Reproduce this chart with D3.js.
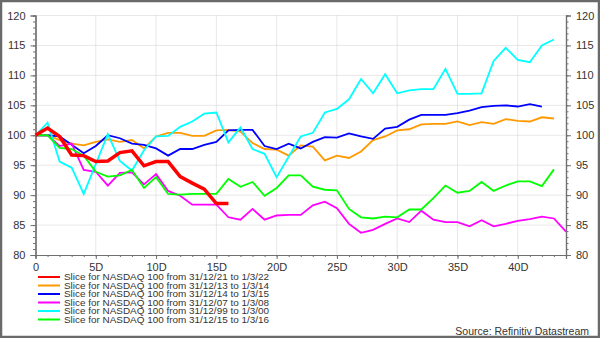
<!DOCTYPE html>
<html><head><meta charset="utf-8">
<script src="https://cdn.jsdelivr.net/npm/d3@7"></script>
<style>
html,body{margin:0;padding:0;background:#fff;}
svg{display:block;font-family:"Liberation Sans",Arial,sans-serif;}
</style></head>
<body><svg id="c" width="600" height="338"></svg>
<script>
const seriesNames = [
  "Slice for NASDAQ 100 from 31/12/21 to 1/3/22",
  "Slice for NASDAQ 100 from 31/12/13 to 1/3/14",
  "Slice for NASDAQ 100 from 31/12/14 to 1/3/15",
  "Slice for NASDAQ 100 from 31/12/07 to 1/3/08",
  "Slice for NASDAQ 100 from 31/12/99 to 1/3/00",
  "Slice for NASDAQ 100 from 31/12/15 to 1/3/16"
];
const seriesColors = ["#ff0000","#ff9900","#0000ff","#ff00ff","#00ffff","#00ff00"];
const red = [100,101.2,99.8,96.7,96.6,95.6,95.7,97.1,97.4,94.9,95.6,95.6,93.1,92.0,91.0,88.6,88.6];
const orange = [100,100,99.2,98.6,98.3,98.9,99.3,98.9,99.2,97.8,99.8,100.4,100.4,99.9,99.9,100.8,100.9,100.6,98.7,97.7,97.6,96.6,98.3,98.1,95.8,96.6,96.2,97.3,99.2,99.8,100.8,101.0,101.8,101.9,101.9,102.3,101.7,102.2,101.9,102.7,102.4,102.3,103.0,102.8];
const blue = [100,100,99.8,98.4,97.0,98.2,100,99.5,98.6,98.4,97.8,96.6,97.7,97.7,98.4,98.9,100.8,100.9,100.9,98.2,97.7,98.6,97.8,98.9,99.7,99.6,100.3,99.8,99.4,101.1,101.4,102.6,103.4,103.4,103.4,103.7,104.1,104.7,104.9,105.0,104.8,105.2,104.8];
const magenta = [100,100,98.2,98.6,94.2,93.9,91.6,93.7,93.8,91.8,93.5,90.7,89.9,88.4,88.4,88.4,86.3,85.9,87.7,85.9,86.6,86.7,86.7,88.3,88.9,87.8,85.2,83.7,84.2,85.2,86.1,85.5,87.4,85.9,85.5,85.5,84.8,85.8,84.8,85.2,85.7,86.0,86.4,86.1,83.9];
const cyan = [100,102.1,95.6,94.6,90.2,95.2,100.2,95.7,94.1,97.5,99.8,99.9,101.4,102.3,103.6,103.8,98.8,101.3,97.7,96.9,93.0,96.4,99.8,100.4,103.8,104.4,106.0,109.4,107.0,110.2,107.0,107.5,107.7,107.7,111.1,106.9,106.9,107.0,112.4,114.6,112.6,112.2,115.0,116.0];
const green = [100,100,97.9,97.7,96.6,93.9,93.1,93.3,94.2,91.2,93.0,90.2,90.1,90.2,90.2,90.2,92.7,91.4,92.2,89.9,91.2,93.3,93.3,91.4,90.9,90.8,87.7,86.3,86.1,86.4,86.3,87.6,87.6,89.5,91.6,90.4,90.7,92.2,90.7,91.6,92.3,92.3,91.5,94.3];
const xTicks = [0,5,10,15,20,25,30,35,40];
const xTickLabels = ["0","5D","10D","15D","20D","25D","30D","35D","40D"];
const yTicks = [80,85,90,95,100,105,110,115,120];

const allSeries = [red, orange, blue, magenta, cyan, green];
const svg = d3.select("#c");
const L = 35.5, R = 566, T = 15.5, B = 255;
const x = d3.scaleLinear().domain([0,44]).range([L,R]);
const y = d3.scaleLinear().domain([80,120]).range([B,T]);

// grid
const grid = svg.append("g");
grid.selectAll("line.v").data(xTicks.filter(d=>d>0)).join("line")
  .attr("x1",d=>x(d)).attr("x2",d=>x(d)).attr("y1",T).attr("y2",B)
  .attr("stroke","#d0d0d0").attr("stroke-width",1).attr("stroke-dasharray","1,1");
grid.selectAll("line.h").data(yTicks.filter(d=>d>80)).join("line")
  .attr("x1",L).attr("x2",R).attr("y1",d=>y(d)).attr("y2",d=>y(d))
  .attr("stroke","#d0d0d0").attr("stroke-width",1).attr("stroke-dasharray","1,1");

// axes
const minorY = d3.range(80,120.01,1);
const leftAx = svg.append("g").attr("transform",`translate(${L},0)`)
  .call(d3.axisLeft(y).tickValues(yTicks).tickSize(5).tickPadding(5));
const leftMinor = svg.append("g").attr("transform",`translate(${L},0)`)
  .call(d3.axisLeft(y).tickValues(minorY).tickSize(2.5).tickFormat(""));
const rightAx = svg.append("g").attr("transform",`translate(${R},0)`)
  .call(d3.axisRight(y).tickValues(yTicks).tickSize(5).tickPadding(5));
const rightMinor = svg.append("g").attr("transform",`translate(${R},0)`)
  .call(d3.axisRight(y).tickValues(minorY).tickSize(2.5).tickFormat(""));
const botAx = svg.append("g").attr("transform",`translate(0,${B})`)
  .call(d3.axisBottom(x).tickValues(xTicks).tickSize(4).tickPadding(4)
    .tickFormat((d,i)=>xTickLabels[i]));
const botMinor = svg.append("g").attr("transform",`translate(0,${B})`)
  .call(d3.axisBottom(x).tickValues(d3.range(0,45,1)).tickSize(2).tickFormat(""));
[leftAx,leftMinor,rightAx,rightMinor,botAx,botMinor].forEach(g=>{
  g.select(".domain").attr("stroke","#707070").attr("stroke-width",1.2);
  g.selectAll(".tick line").attr("stroke","#707070");
  g.selectAll(".tick text").attr("fill","#333").attr("font-size","11px")
    .attr("font-family","'Liberation Sans',Arial,sans-serif");
});

// lines
const line = d3.line().x((d,i)=>x(i)).y(d=>y(d));
const order = [1,2,3,4,5,0];
order.forEach(k=>{
  svg.append("path").datum(allSeries[k]).attr("d",line)
    .attr("fill","none").attr("stroke",seriesColors[k])
    .attr("stroke-width",k===0?3.5:1.8).attr("stroke-linejoin","miter");
});

// legend
const lg = svg.append("g");
seriesNames.forEach((n,i)=>{
  const yy = 277 + i*8.5;
  lg.append("line").attr("x1",38).attr("x2",60).attr("y1",yy).attr("y2",yy)
    .attr("stroke",seriesColors[i]).attr("stroke-width",2);
  lg.append("text").attr("x",64).attr("y",yy+3.2).text(n)
    .attr("font-size","8.6px").attr("textLength",205).attr("lengthAdjust","spacingAndGlyphs")
    .attr("fill","#333");
});
svg.append("text").attr("x",589).attr("y",335).attr("text-anchor","end")
  .attr("font-size","10.5px").attr("fill","#333").text("Source: Refinitiv Datastream");

// frame
svg.append("rect").attr("x",1).attr("y",1).attr("width",598).attr("height",336)
  .attr("fill","none").attr("stroke","#6a6a6a").attr("stroke-width",2.5);
</script></body></html>
